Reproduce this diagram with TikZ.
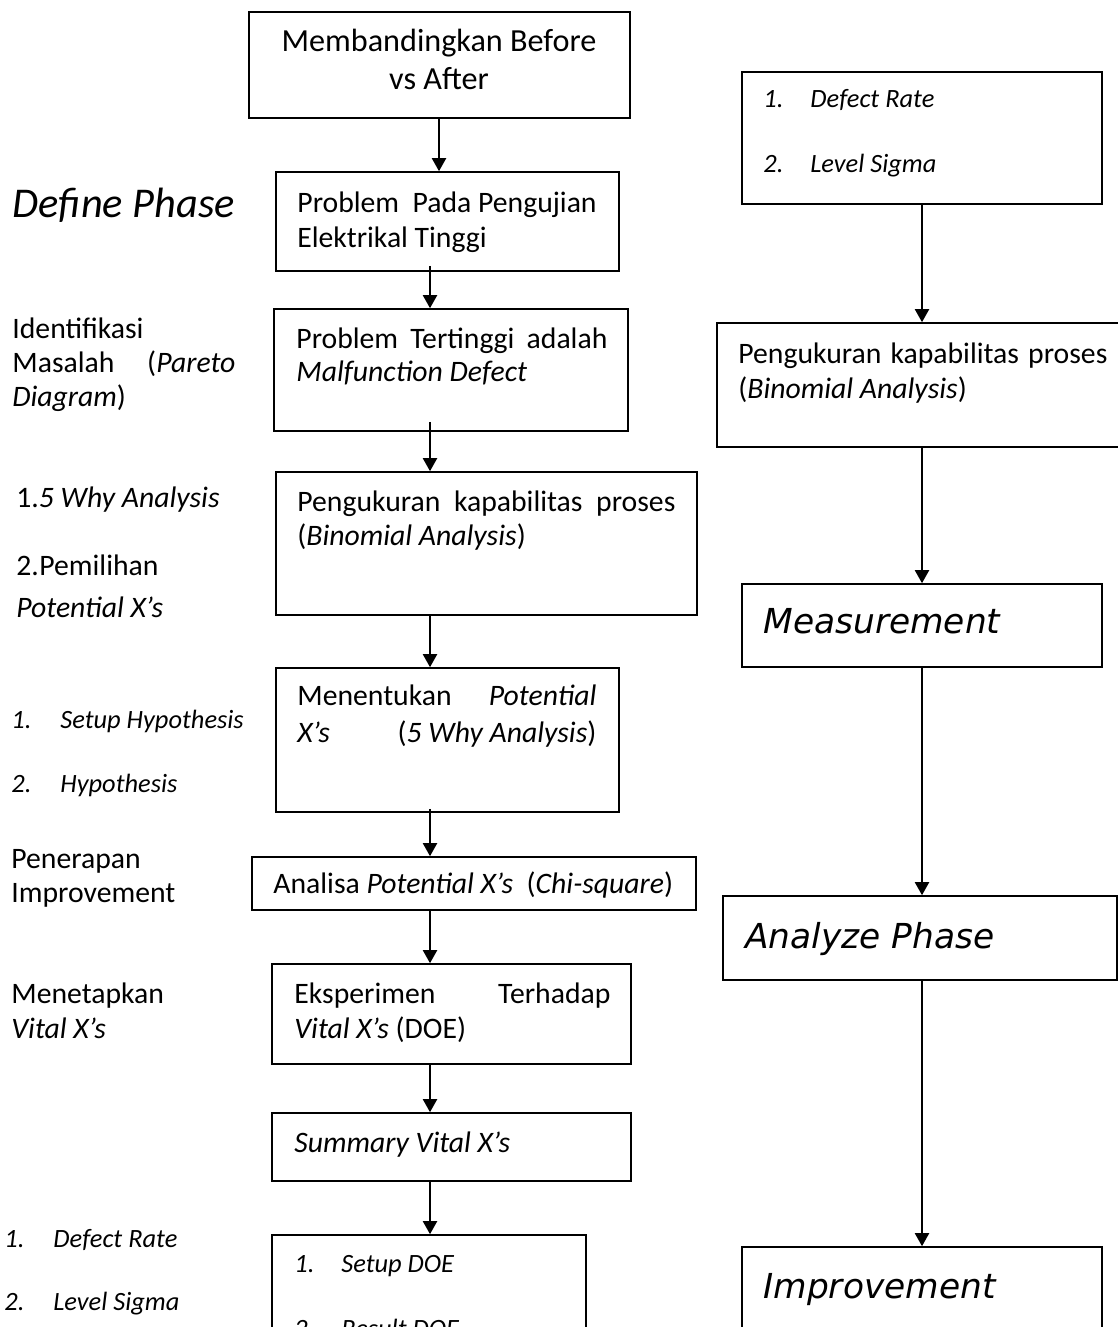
\documentclass[tikz,border=0pt]{standalone}
\usepackage{fontspec}
\setmainfont{Carlito}
\newfontfamily\dvs{DejaVu Sans}
\usetikzlibrary{arrows.meta,fit,calc}
\begin{document}
\begin{tikzpicture}[x=0.5pt,y=-0.5pt,
 box/.style={draw, line width=0.8pt, inner sep=0pt},
 arr/.style={-{Triangle[length=6.5pt,width=7pt]}, line width=1pt},
 txt/.style={anchor=base west, inner sep=0pt, font=\fontsize{14.85}{17.5}\selectfont},
 ttl/.style={anchor=base, inner sep=0pt, font=\fontsize{16.1}{19}\selectfont},
 sm/.style={anchor=base west, inner sep=0pt, font=\fontsize{13.2}{16}\selectfont\itshape},
 big/.style={anchor=base west, inner sep=0pt, font=\dvs\itshape\fontsize{17.2}{20}\selectfont},
 phase/.style={anchor=base west, inner sep=0pt, font=\fontsize{21.2}{24}\selectfont\itshape},
]
\useasboundingbox (0,0) rectangle (1118,1327);
\clip (0,0) rectangle (1118,1327);

% column coordinates
\coordinate (colA) at (439,0);
\coordinate (colL) at (430,0);
\coordinate (colR) at (922,0);

% ---- left column boxes ----
\node[box, fit={(249,12) (630,118)}] (A) {};
\node[box, fit={(276,172) (619,271)}] (B) {};
\node[box, fit={(274,309) (628,431)}] (C) {};
\node[box, fit={(276,472) (697,615)}] (D) {};
\node[box, fit={(276,668) (619,812)}] (E) {};
\node[box, fit={(252,857) (696,910)}] (F) {};
\node[box, fit={(272,964) (631,1064)}] (G) {};
\node[box, fit={(272,1113) (631,1181)}] (H) {};
\node[box, fit={(272,1235) (586,1420)}] (I) {};

% ---- right column boxes ----
\node[box, fit={(742,72) (1102,204)}] (R1) {};
\node[box, fit={(717,323) (1130,447)}] (R2) {};
\node[box, fit={(742,584) (1102,667)}] (R3) {};
\node[box, fit={(723,896) (1117,980)}] (R4) {};
\node[box, fit={(742,1247) (1102,1420)}] (R5) {};

% ---- box texts ----
\node[ttl] (tA1) at (439,52) {Membandingkan Before};
\node[ttl] (tA2) at (439,90) {vs After};

\node[txt] (tB1) at (297,212) {Problem\ \ Pada Pengujian};
\node[txt] (tB2) at (297,247) {Elektrikal Tinggi};

\node[txt] (tC1) at (296,348) {\makebox[155.5pt][s]{Problem Tertinggi adalah}};
\node[txt] (tC2) at (296,381) {\textit{Malfunction Defect}};

\node[txt] (tD1) at (297,511) {\makebox[189pt][s]{Pengukuran kapabilitas proses}};
\node[txt] (tD2) at (297,545) {(\textit{Binomial Analysis})};

\node[txt] (tE1) at (297,705) {\hbox to 149.5pt{Menentukan\hfill\textit{Potential}}};
\node[txt] (tE2) at (297,742) {\hbox to 149.5pt{\textit{X’s}\hfill(\textit{5 Why Analysis})}};

\node[txt] (tF1) at (273,893) {Analisa \textit{Potential X’s}\ \ (\textit{Chi-square})};

\node[txt] (tG1) at (294,1003) {\hbox to 158pt{Eksperimen\hfill Terhadap}};
\node[txt] (tG2) at (294,1038) {\textit{Vital X’s} (DOE)};

\node[txt] (tH1) at (294,1152) {\textit{Summary Vital X’s}};

\node[sm] (tI1n) at (294,1272) {1.};
\node[sm] (tI1) at (341,1272) {Setup DOE};
\node[sm] (tI2n) at (294,1337) {2.};
\node[sm] (tI2) at (341,1337) {Result DOE};

\node[sm] (tR1n) at (763,108) {1.};
\node[sm] (tR1) at (810,108) {Defect Rate};
\node[sm] (tR2n) at (763,172) {2.};
\node[sm] (tR2) at (810,172) {Level Sigma};

\node[txt] (tS1) at (738,363) {\makebox[184.5pt][s]{Pengukuran kapabilitas proses}};
\node[txt] (tS2) at (738,398) {(\textit{Binomial Analysis})};

\node[big] (tM) at (763,633) {Measurement};
\node[big] (tAn) at (745,948) {Analyze Phase};
\node[big] (tIm) at (763,1298) {Improvement};

% ---- left labels ----
\node[phase] (lDef) at (12,217) {Define Phase};
\node[txt] (lId1) at (12,338) {Identifikasi};
\node[txt] (lId2) at (12,372) {\hbox to 111.5pt{Masalah\hfill(\textit{Pareto}}};
\node[txt] (lId3) at (12,406) {\textit{Diagram})};

\node[txt] (lW1) at (16,507) {1.\textit{5 Why Analysis}};
\node[txt] (lW2n) at (16,575) {2.};
\node[txt] (lW2) at (39,575) {Pemilihan};
\node[txt] (lW3) at (16,617) {\textit{Potential X’s}};

\node[sm] (lH1n) at (11,728) {1.};
\node[sm] (lH1) at (60,728) {Setup Hypothesis};
\node[sm] (lH2n) at (11,792) {2.};
\node[sm] (lH2) at (60,792) {Hypothesis};

\node[txt] (lP1) at (11,868) {Penerapan};
\node[txt] (lP2) at (11,902) {Improvement};

\node[txt] (lV1) at (11,1003) {Menetapkan};
\node[txt] (lV2) at (11,1038) {\textit{Vital X’s}};

\node[sm] (lD1n) at (4,1247) {1.};
\node[sm] (lD1) at (53,1247) {Defect Rate};
\node[sm] (lD2n) at (4,1310) {2.};
\node[sm] (lD2) at (53,1310) {Level Sigma};

% ---- connectors ----
\draw[arr] (A.south -| colA) -- (B.north -| colA);
\draw[arr] ($(B.south -| colL)+(0,-6)$) -- (C.north -| colL);
\draw[arr] ($(C.south -| colL)+(0,-10)$) -- (D.north -| colL);
\draw[arr] (D.south -| colL) -- (E.north -| colL);
\draw[arr] ($(E.south -| colL)+(0,-4)$) -- (F.north -| colL);
\draw[arr] (F.south -| colL) -- (G.north -| colL);
\draw[arr] (G.south -| colL) -- (H.north -| colL);
\draw[arr] (H.south -| colL) -- (I.north -| colL);

\draw[arr] (R1.south -| colR) -- (R2.north -| colR);
\draw[arr] (R2.south -| colR) -- (R3.north -| colR);
\draw[arr] (R3.south -| colR) -- (R4.north -| colR);
\draw[arr] (R4.south -| colR) -- (R5.north -| colR);
\end{tikzpicture}
\end{document}
